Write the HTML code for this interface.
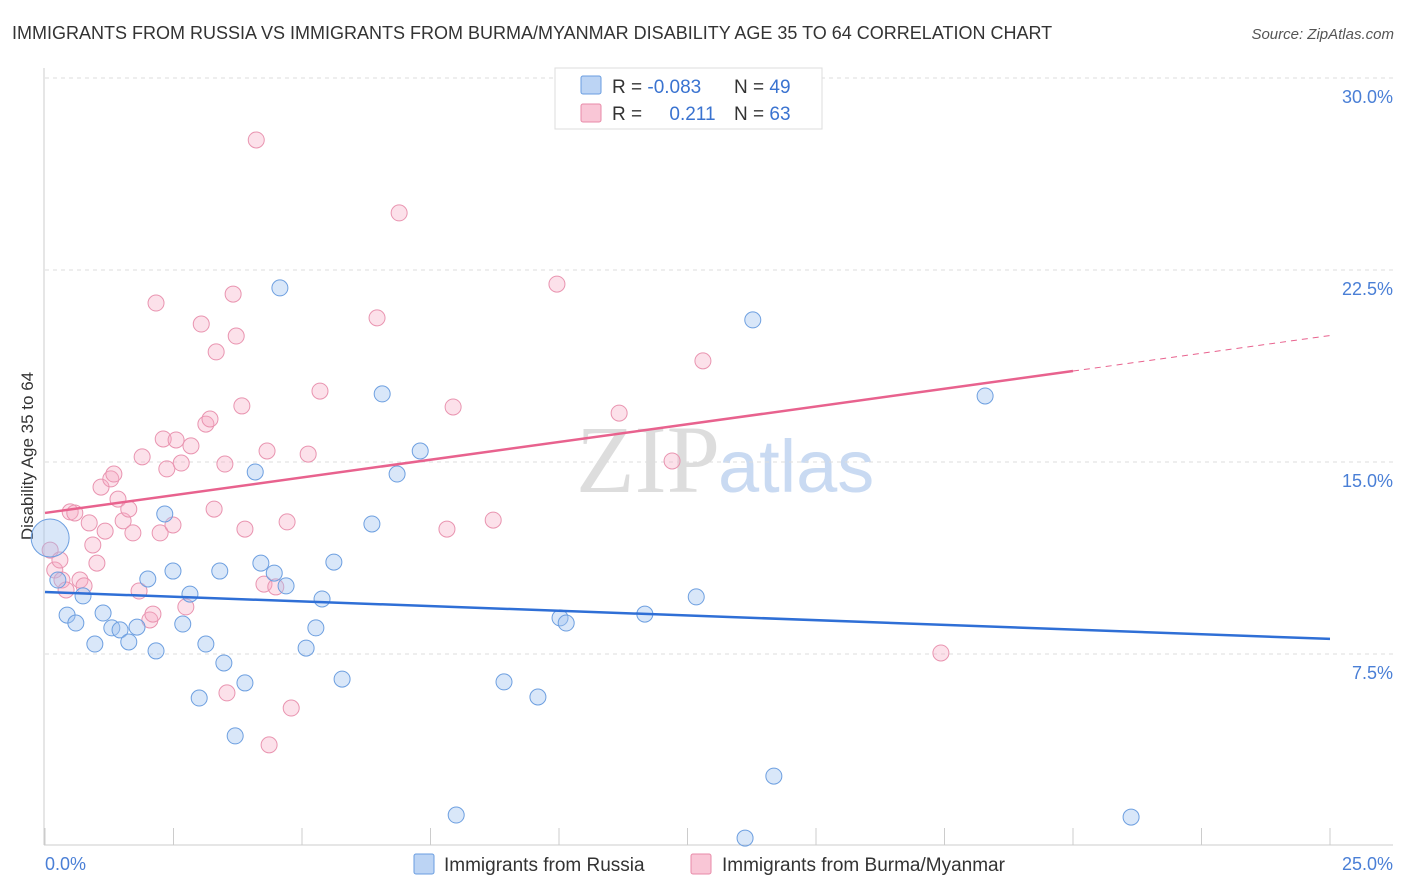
<!DOCTYPE html>
<html><head><meta charset="utf-8"><style>
body{margin:0;background:#fff;font-family:"Liberation Sans",sans-serif;}
svg{display:block}
</style></head><body>
<svg id="chart" width="1406" height="892" viewBox="0 0 1406 892">
<text x="12" y="39" font-size="18" fill="#333">IMMIGRANTS FROM RUSSIA VS IMMIGRANTS FROM BURMA/MYANMAR DISABILITY AGE 35 TO 64 CORRELATION CHART</text>
<text x="1394" y="39" font-size="15" fill="#555" font-style="italic" text-anchor="end">Source: ZipAtlas.com</text>
<text x="720" y="492" font-size="96" fill="#ddd" text-anchor="end" font-family="Liberation Serif,serif">ZIP</text>
<text x="718" y="492" font-size="74" fill="#c9daf2">atlas</text>
<g id="grid"></g>
<line x1="44" y1="68" x2="44" y2="845" stroke="#ccc"/>
<line x1="44" y1="845" x2="1393" y2="845" stroke="#ccc"/>
<text transform="translate(33,456) rotate(-90)" font-size="17" fill="#333" text-anchor="middle">Disability Age 35 to 64</text>
<text x="45" y="870" font-size="18" fill="#4a7fd6">0.0%</text>
<text x="1393" y="870" font-size="18" fill="#4a7fd6" text-anchor="end">25.0%</text>
<g id="pts"></g>
<g id="lines"></g>
<g>
<rect x="555" y="68" width="267" height="61" fill="#fff" stroke="#ddd"/>
<rect x="581" y="76" width="20" height="18" fill="#bcd4f4" stroke="#6a9de0" rx="2"/>
<rect x="581" y="104" width="20" height="18" fill="#f9c6d6" stroke="#e88aa8" rx="2"/>
<text x="612" y="93" font-size="19" fill="#333">R = <tspan fill="#3a73d0">-0.083</tspan></text>
<text x="734" y="93" font-size="19" fill="#333">N = <tspan fill="#3a73d0">49</tspan></text>
<text x="612" y="120" font-size="19" fill="#333">R = <tspan fill="#3a73d0" dx="22">0.211</tspan></text>
<text x="734" y="120" font-size="19" fill="#333">N = <tspan fill="#3a73d0">63</tspan></text>
</g>
<g>
<rect x="414" y="854" width="20" height="20" fill="#bcd4f4" stroke="#6a9de0" rx="2"/>
<text x="444" y="871" font-size="19" fill="#333">Immigrants from Russia</text>
<rect x="691" y="854" width="20" height="20" fill="#f9c6d6" stroke="#e88aa8" rx="2"/>
<text x="722" y="871" font-size="19" fill="#333">Immigrants from Burma/Myanmar</text>
</g>
</svg>
<script>
const yTicks=[7.5,15,22.5,30];
const xTicks=[0,2.5,5,7.5,10,12.5,15,17.5,20,22.5,25];
const russiaX=[0.10,0.25,0.43,0.60,0.74,0.97,1.13,1.30,1.46,1.63,1.79,2.00,2.16,2.33,2.49,2.68,2.82,3.00,3.13,3.40,3.48,3.70,3.89,4.09,4.20,4.46,4.57,4.69,5.08,5.27,5.39,5.62,5.78,6.36,6.56,6.85,7.30,8.00,8.93,9.59,10.02,10.14,11.67,12.67,13.62,13.77,14.18,18.29,21.13];
const russiaY=[12.03,10.39,9.02,8.71,9.77,7.89,9.10,8.52,8.44,7.97,8.55,10.43,7.62,12.97,10.74,8.67,9.84,5.78,7.89,10.74,7.15,4.30,6.37,14.61,11.05,10.66,21.80,10.16,7.73,8.52,9.65,11.09,6.52,12.58,17.66,14.53,15.43,1.21,6.41,5.82,8.91,8.71,9.06,9.73,0.31,20.55,2.73,17.58,1.13];
const burmaX=[0.10,0.19,0.29,0.33,0.41,0.49,0.58,0.68,0.76,0.86,0.93,1.01,1.09,1.17,1.28,1.34,1.42,1.52,1.63,1.71,1.83,1.89,2.04,2.10,2.16,2.24,2.30,2.37,2.49,2.55,2.65,2.74,2.84,3.04,3.13,3.21,3.29,3.33,3.50,3.54,3.66,3.72,3.83,3.89,4.11,4.26,4.32,4.36,4.49,4.71,4.79,5.12,5.35,6.46,6.89,7.82,7.94,8.72,9.96,11.17,12.20,12.80,17.43];
const burmaY=[11.56,10.78,11.17,10.39,10.00,13.05,13.01,10.39,10.16,12.62,11.76,11.05,14.02,12.30,14.34,14.53,13.55,12.70,13.16,12.23,9.96,15.20,8.83,9.06,21.21,12.23,15.90,14.73,12.54,15.86,14.96,9.34,15.63,20.39,16.48,16.68,13.16,19.30,14.92,5.98,21.56,19.92,17.19,12.38,27.58,10.23,15.43,3.95,10.12,12.66,5.39,15.31,17.77,20.63,24.73,12.38,17.15,12.73,21.95,16.91,15.04,18.95,7.54];
const russiaTrend=[9.92,8.09];
const burmaTrend=[13.01,19.94];
const burmaSolidEnd=20;
const X=v=>45+v/25*1285, Y=v=>846-v/30*768;
const NS='http://www.w3.org/2000/svg';
function mk(t,a,p){const e=document.createElementNS(NS,t);for(const k in a)e.setAttribute(k,a[k]);p.appendChild(e);return e;}
const grid=document.getElementById('grid');
yTicks.forEach(t=>{
 const l=mk('line',{x1:45,x2:1393,y1:Y(t),y2:Y(t),stroke:'#ddd','stroke-dasharray':'4,4'},grid);
 
 
 const tx=mk('text',{x:1393,y:Y(t)+25,'font-size':18,fill:'#4a7fd6','text-anchor':'end'},grid);
 tx.textContent=t.toFixed(1)+'%';
 
 
});
xTicks.forEach(t=>{
 const l=mk('line',{x1:X(t),x2:X(t),y1:828,y2:845,stroke:'#ccc'},grid);
 
 
});
const pts=document.getElementById('pts');
burmaX.forEach((x,i)=>{
 const c=mk('circle',{cx:X(x),cy:Y(burmaY[i]),r:8,fill:'rgba(246,170,195,0.35)',stroke:'#e994b0','stroke-width':1},pts);
 
 
});
russiaX.forEach((x,i)=>{
 const c=mk('circle',{cx:X(x),cy:Y(russiaY[i]),r:i===0?19:8,fill:'rgba(160,195,240,0.4)',stroke:'#6d9fe0','stroke-width':1},pts);
 
 
});
const lines=document.getElementById('lines');
const bl=mk('line',{x1:X(0),y1:Y(russiaTrend[0]),x2:X(25),y2:Y(russiaTrend[1]),stroke:'#2f6fd6','stroke-width':2.5},lines);


const bEnd=burmaTrend[0]+(burmaTrend[1]-burmaTrend[0])*burmaSolidEnd/25;
const pl=mk('line',{x1:X(0),y1:Y(burmaTrend[0]),x2:X(burmaSolidEnd),y2:Y(bEnd),stroke:'#e8628e','stroke-width':2.5},lines);


const pd=mk('line',{x1:X(burmaSolidEnd),y1:Y(bEnd),x2:X(25),y2:Y(burmaTrend[1]),stroke:'#e8628e','stroke-width':1,'stroke-dasharray':'6,5'},lines);


</script>
</body></html>
